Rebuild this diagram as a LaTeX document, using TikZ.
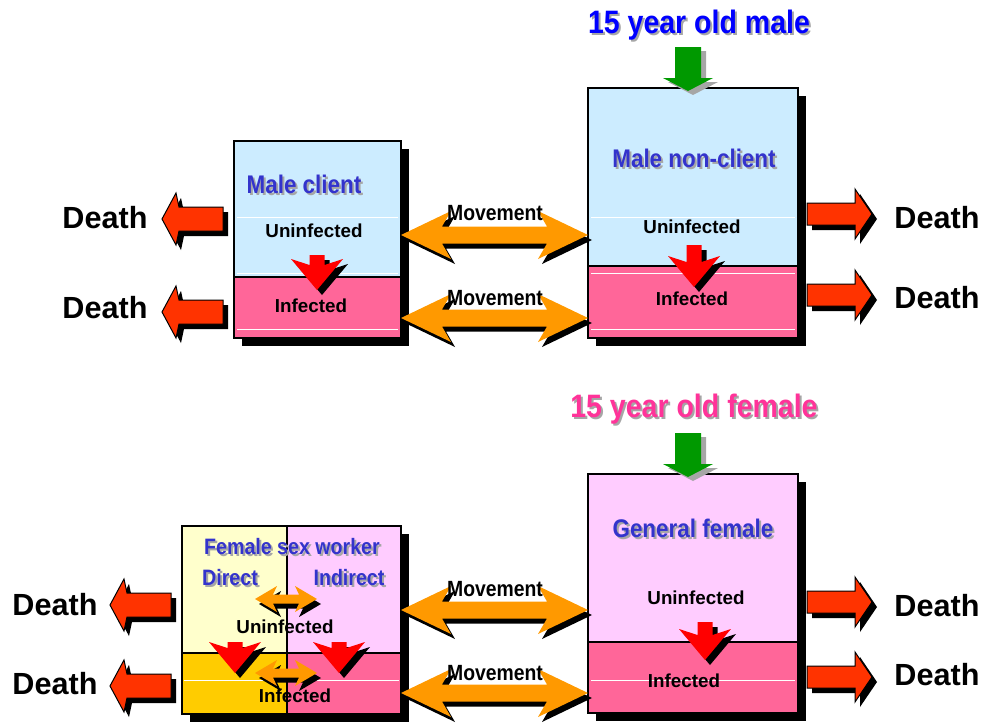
\documentclass[tikz,border=0pt]{standalone}
\usepackage{fontspec}
\setmainfont{Liberation Sans}
\newfontfamily\narrowfont{Liberation Sans}[FakeStretch=0.88]
\usetikzlibrary{shadows}
\definecolor{clientblue}{HTML}{CCECFF}
\definecolor{infpink}{HTML}{FF6699}
\definecolor{fswyellow}{HTML}{FFFFCC}
\definecolor{femalepink}{HTML}{FFCCFF}
\definecolor{fswgold}{HTML}{FFCC00}
\definecolor{labelblue}{HTML}{3333CC}
\definecolor{titleblue}{HTML}{0000FF}
\definecolor{titlepink}{HTML}{FF3399}
\definecolor{deathred}{HTML}{FF3300}
\definecolor{moveorange}{HTML}{FF9900}
\definecolor{agegreen}{HTML}{009900}
\definecolor{softgray}{HTML}{A6A6A6}
\tikzset{
  box/.style={draw=black, line width=2pt, inner sep=0pt, outer sep=0pt,
    general shadow={fill=black, shadow xshift=8pt, shadow yshift=-8pt}},
  whiteline/.style={white, line width=1pt},
  deatharrow/.style={fill=deathred, draw=black, line width=1pt,
    general shadow={fill=black, shadow xshift=5pt, shadow yshift=-5pt}},
  movearrow/.style={fill=moveorange,
    general shadow={fill=black, shadow xshift=4pt, shadow yshift=-5pt}},
  infarrow/.style={fill=red,
    general shadow={fill=black, shadow xshift=5pt, shadow yshift=-5pt}},
  agearrow/.style={fill=agegreen,
    general shadow={fill=softgray, shadow xshift=5pt, shadow yshift=-4pt}},
  state/.style={inner sep=0pt, font=\bfseries\fontsize{18.8pt}{20pt}\selectfont},
  death/.style={inner sep=0pt, font=\bfseries\fontsize{30.6pt}{32pt}\selectfont},
  move/.style={inner sep=0pt, font=\narrowfont\bfseries\fontsize{22pt}{24pt}\selectfont},
  group/.style={inner sep=0pt, text=labelblue, font=\narrowfont\bfseries\fontsize{25.5pt}{28pt}\selectfont},
  fsw/.style={inner sep=0pt, text=labelblue, font=\narrowfont\bfseries\fontsize{22.3pt}{24pt}\selectfont},
  title/.style={inner sep=0pt, font=\narrowfont\bfseries\fontsize{32.4pt}{36pt}\selectfont},
}
% label with a soft grey copy behind it
\newcommand{\shadowtext}[4]{%
  \node[#3, text=softgray, shift={(2,2)}] at (#2) {#4};
  \node[#3] (#1) at (#2) {#4};}
\begin{document}
\begin{tikzpicture}[x=1pt, y=-1pt]
\useasboundingbox (0,0) rectangle (989,726);
% compartments
\node[box, fill=clientblue, minimum width=167pt, minimum height=136pt] (mcU) at (317.5,209) {};
\node[box, fill=infpink, minimum width=167pt, minimum height=61pt] (mcI) at (317.5,307.5) {};
\node[box, fill=clientblue, minimum width=210pt, minimum height=178pt] (ncU) at (693,177) {};
\node[box, fill=infpink, minimum width=210pt, minimum height=72pt] (ncI) at (693,302) {};
\node[box, fill=fswyellow, minimum width=105pt, minimum height=127pt] (fdU) at (234.5,589.5) {};
\node[box, fill=femalepink, minimum width=114pt, minimum height=127pt] (fiU) at (344,589.5) {};
\node[box, fill=fswgold, minimum width=105pt, minimum height=61pt] (fdI) at (234.5,683.5) {};
\node[box, fill=infpink, minimum width=114pt, minimum height=61pt] (fiI) at (344,683.5) {};
\node[box, fill=femalepink, minimum width=210pt, minimum height=168pt] (gfU) at (693,558) {};
\node[box, fill=infpink, minimum width=210pt, minimum height=71pt] (gfI) at (693,677.5) {};
\foreach \y in {217,273,329} % thin white rules
  \draw[whiteline] (237,\y) -- (398,\y) (591,\y) -- (795,\y);
\draw[whiteline] (184,680) -- (399,680) (591,680) -- (795,680);
% new 15 year olds
\foreach \y in {47,433}
  \fill[agearrow, shift={(688,\y)}] (-13,0) -- (13,0) -- (13,31) -- (25,31) -- (0,44) -- (-25,31) -- (-13,31) -- cycle;
% deaths
\foreach \x/\y in {162/219, 162/312, 110/605, 110/686}
  \draw[deatharrow, shift={(\x,\y)}] (0,0) -- (14,-26) -- (17,-12) -- (61,-12) -- (61,12) -- (17,12) -- (14,26) -- cycle;
\foreach \y in {214,295,602,677}
  \draw[deatharrow, shift={(872,\y)}] (0,0) -- (-17,-25) -- (-17,-11) -- (-65,-11) -- (-65,11) -- (-17,11) -- (-17,25) -- cycle;
% movement between groups
\foreach \a/\b/\y in {mcU/ncU/235, mcI/ncI/318, fiU/gfU/610, fiI/gfI/693} {
  \path (\a.east |- 0,\y) coordinate (ml) (\b.west |- 0,\y) coordinate (mr);
  \fill[movearrow] (ml) -- ++(50,-24) -- ++(-9,15.5) -- ([shift={(-41,-8.5)}]mr) -- ++(-9,-15.5)
    -- (mr) -- ++(-50,24) -- ++(9,-15.5) -- ([shift={(41,8.5)}]ml) -- ++(9,15.5) -- cycle;
}
\foreach \y in {599,673} % direct <-> indirect
  \fill[movearrow, shift={(255,\y)}] (0,0) -- (22,-13) -- (18,-4.5) -- (44,-4.5) -- (40,-13) -- (62,0)
    -- (40,13) -- (44,4.5) -- (18,4.5) -- (22,13) -- cycle;
% infection
\foreach \cx/\ys/\yt in {317/255/290, 694/245/287, 235/642/673, 339/642/673, 705/622/660}
  \fill[infarrow] (\cx-7.5,\ys) -- (\cx-7.5,\yt-25) -- (\cx-26,\yt-31) -- (\cx,\yt) -- (\cx+26,\yt-31)
    -- (\cx+7.5,\yt-25) -- (\cx+7.5,\ys) -- cycle;
% labels
\shadowtext{tm}{699,25}{title, text=titleblue}{15 year old male}
\shadowtext{tf}{694,409}{title, text=titlepink}{15 year old female}
\shadowtext{mcL}{304,184}{group}{Male client}
\shadowtext{ncL}{694,158}{group}{Male non-client}
\shadowtext{gfL}{693,528}{group}{General female}
\shadowtext{fswL}{292,547}{fsw}{Female sex worker}
\shadowtext{fdL}{230,578}{fsw}{Direct}
\shadowtext{fiL}{349,578}{fsw}{Indirect}
\node[state] (mcUt) at (314,231) {Uninfected};
\node[state] (mcIt) at (311,306) {Infected};
\node[state] (ncUt) at (692,227) {Uninfected};
\node[state] (ncIt) at (692,299) {Infected};
\node[state] (fUt) at (285,627) {Uninfected};
\node[state] (fIt) at (295,696) {Infected};
\node[state] (gfUt) at (696,598) {Uninfected};
\node[state] (gfIt) at (684,681) {Infected};
\foreach \n/\y in {1/213, 2/298, 3/589, 4/673}
  \node[move] (mv\n) at (495,\y) {Movement};
\foreach \n/\x/\y in {1/105/218, 2/105/308, 3/55/605, 4/55/684, 5/937/218, 6/937/298, 7/937/606, 8/937/675}
  \node[death] (d\n) at (\x,\y) {Death};
\end{tikzpicture}
\end{document}
